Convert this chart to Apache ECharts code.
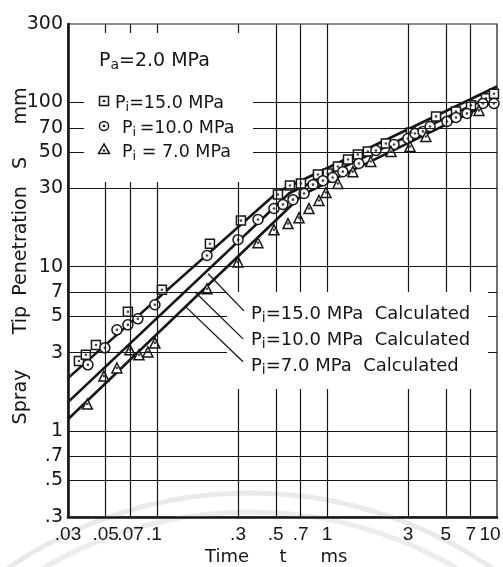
<!DOCTYPE html>
<html><head><meta charset="utf-8">
<script src="https://cdn.jsdelivr.net/npm/echarts@6/dist/echarts.min.js"></script>
<style>html,body{margin:0;padding:0;background:#fff}#c{width:503px;height:567px}</style>
</head><body><div id="c"></div>
<script>
// ---- axis ticks / grid ----
const xTickValues = [0.03,0.05,0.07,0.1,0.3,0.5,0.7,1,3,5,7,10];
const xTickLabels = ['.03','.05','.07','.1','.3','.5','.7','1','3','5','7','10'];
const yTickValues = [0.3,0.5,0.7,1,3,5,7,10,30,50,70,100,300];
const yTickLabels = ['.3','.5','.7','1','3','5','7','10','30','50','70','100','300'];
const xGridValues = [0.05,0.07,0.1,0.3,0.5,0.7,1,3,5,7];
const yGridValues = [0.5,0.7,1,3,5,7,10,30,50,70,100];

// ---- measured: Pi = 15.0 MPa (squares) ----
const time15 = [0.0348,0.0382,0.0438,0.0675,0.107,0.205,0.312,0.515,0.606,0.703,0.885,1.01,1.16,1.33,1.52,1.74,2.22,3.12,4.38,5.74,7.03,8.61,9.6];
const pen15  = [2.67,2.91,3.34,5.32,7.24,13.8,19.1,27.5,31.2,32.1,36.4,36.9,40.7,44.9,48.2,50.3,56.2,65.6,82.2,88,96,106,113];
// ---- measured: Pi = 10.0 MPa (circles) ----
const time10 = [0.0296,0.0393,0.0494,0.0582,0.0675,0.0773,0.0973,0.197,0.30,0.393,0.488,0.551,0.631,0.733,0.828,0.947,1.08,1.24,1.54,1.94,2.48,2.99,3.29,3.67,4.04,5.08,5.74,6.66,8.27,9.6];
const pen10  = [2.2,2.53,3.21,4.13,4.43,4.82,5.87,11.7,14.6,19.4,22.6,23.9,25.6,27.9,31.6,33.4,34.9,37.9,42.5,51,55.5,60.3,64.7,66.6,71.4,76.6,81,85.7,98.6,98.6];
// ---- measured: Pi = 7.0 MPa (triangles) ----
const time7 = [0.0299,0.039,0.0488,0.0582,0.0694,0.0784,0.0885,0.0973,0.197,0.30,0.393,0.488,0.59,0.685,0.784,0.897,0.986,1.16,1.42,1.81,2.38,3.08,3.82,7.83];
const pen7  = [1.25,1.46,2.16,2.42,3.12,2.91,3.03,3.44,7.34,10.7,14.0,16.8,18.3,19.9,22.6,25.3,28.3,32.1,37.9,43.7,50.3,53.9,62,89.4];

// ---- calculated lines (start, break-up, end) ----
const calcTime15 = [0.03,0.515,10];  const calcPen15 = [2.1,28.6,125];
const calcTime10 = [0.03,0.60,10];   const calcPen10 = [1.5,28.0,114];
const calcTime7  = [0.03,0.72,10];   const calcPen7  = [1.18,27.5,104];

// ---- leader lines to the "Calculated" labels ----
const leaderTime1 = [0.200,0.325]; const leaderPen1 = [9.06,5.39];
const leaderTime2 = [0.167,0.321]; const leaderPen2 = [7.04,3.64];
const leaderTime3 = [0.148,0.321]; const leaderPen3 = [5.70,2.64];

const INK = '#161616';
const FONT = "'DejaVu Sans', 'Liberation Sans', sans-serif";
const TICKFONT = "'Liberation Sans', 'DejaVu Sans', sans-serif";
const zip = (a,b) => a.map((v,i)=>[v,b[i]]);
const lookup = (vals, labs, v) => {
  for (let i=0;i<vals.length;i++) if (Math.abs(Math.log10(v)-Math.log10(vals[i]))<1e-6) return labs[i];
  return '';
};

function markerSeries(name, t, s, symbol, size) {
  return [{
    name, type:'scatter', data: zip(t,s), symbol, symbolSize: size, z: 4,
    itemStyle: { color:'#fff', borderColor: INK, borderWidth: 1.5, opacity: 1 },
    emphasis: { disabled: true }, silent: true
  },{
    name: name+'_dot', type:'scatter', data: zip(t,s), symbol:'circle', symbolSize: 2.6, z: 5,
    itemStyle: { color: INK }, emphasis: { disabled: true }, silent: true
  }];
}
function lineSeries(name, t, s, width, z) {
  return { name, type:'line', data: zip(t,s), showSymbol:false, symbol:'none', z,
    lineStyle:{ color: INK, width }, emphasis:{ disabled:true }, silent:true, animation:false };
}

const gridLineSeries = lineSeries('calc15', calcTime15, calcPen15, 2.6, 3);
gridLineSeries.markLine = {
  silent: true, symbol: ['none','none'], animation:false,
  label: { show:false },
  lineStyle: { color: INK, width: 1.2, type:'solid' },
  emphasis: { disabled: true },
  data: xGridValues.map(v=>({xAxis:v})).concat(yGridValues.map(v=>({yAxis:v})))
};

const xRich = {
  n:{fontSize:19, fontFamily:TICKFONT, color:INK},
  r:{fontSize:19, fontFamily:TICKFONT, color:INK, padding:[0,14,0,0]},
  q:{fontSize:19, fontFamily:TICKFONT, color:INK, padding:[0,6,0,0]}
};

const subRich = (fs) => ({ s: { fontSize: fs, fontFamily: FONT, fill: INK, padding:[9,0,0,0] } });

function txt(x, y, text, fs, align, extra) {
  return Object.assign({
    type:'text', x, y, z: 11, silent:true,
    style: { text, x:0, y:0, fill: INK, fontSize: fs, fontFamily: FONT,
      align: align, textAlign: align, verticalAlign:'middle', textVerticalAlign:'middle',
      rich: subRich(Math.round(fs*0.75)) }
  }, extra || {});
}

const chart = echarts.init(document.getElementById('c'), null, {renderer:'canvas'});
chart.setOption({
  animation: false,
  backgroundColor: '#fff',
  grid: { left: 68, right: 6, top: 24, bottom: 50, show: true, borderColor: INK, borderWidth: 1.2,
          containLabel: false, outerBoundsMode: 'none' },
  xAxis: {
    type:'log', logBase:10, min:0.03, max:10,
    axisLine:{ show:true, onZero:false, lineStyle:{ color:INK, width:2.6 } },
    axisTick:{ show:false }, splitLine:{ show:false }, minorTick:{show:false},
    axisLabel:{ customValues: xTickValues, margin: 8, color: INK, fontSize: 19, fontFamily: TICKFONT,
      formatter: v => {
        const s = lookup(xTickValues, xTickLabels, v);
        if (s === '10') return '{r|10}';
        if (s === '.1') return '{q|.1}';
        return '{n|' + s + '}';
      }, rich: xRich }
  },
  yAxis: {
    type:'log', logBase:10, min:0.3, max:300,
    axisLine:{ show:true, onZero:false, lineStyle:{ color:INK, width:2.6 } },
    axisTick:{ show:false }, splitLine:{ show:false }, minorTick:{show:false},
    axisLabel:{ customValues: yTickValues, margin: 5, color: INK, fontSize: 19, fontFamily: FONT,
      formatter: v => lookup(yTickValues, yTickLabels, v) }
  },
  series: [
    gridLineSeries,
    lineSeries('calc10', calcTime10, calcPen10, 2.6, 3),
    lineSeries('calc7', calcTime7, calcPen7, 2.6, 3),
    ...markerSeries('Pi=15.0', time15, pen15, 'rect', 9),
    ...markerSeries('Pi=10.0', time10, pen10, 'circle', 10),
    ...markerSeries('Pi=7.0', time7, pen7, 'triangle', 10),
    lineSeries('leader1', leaderTime1, leaderPen1, 1.3, 12),
    lineSeries('leader2', leaderTime2, leaderPen2, 1.3, 12),
    lineSeries('leader3', leaderTime3, leaderPen3, 1.3, 12)
  ],
  graphic: [
    // faint watermark arcs of the scanned page
    { type:'circle', shape:{cx:250, cy:920, r:427}, style:{fill:'none', stroke:'#e9e9e9', lineWidth:5}, z:0, silent:true },
    { type:'circle', shape:{cx:250, cy:920, r:408}, style:{fill:'none', stroke:'#ececec', lineWidth:5}, z:0, silent:true },
    // white panels behind the legend texts
    { type:'rect', shape:{x:84, y:33, width:169, height:149}, style:{fill:'#fff'}, z:10, silent:true },
    { type:'rect', shape:{x:227, y:292, width:261, height:97}, style:{fill:'#fff'}, z:10, silent:true },
    // legend: measured
    txt(99, 61, 'P{s|a}=2.0 MPa', 19, 'left'),
    { type:'rect', shape:{x:99.5, y:96.5, width:9, height:9}, style:{fill:'#fff', stroke:INK, lineWidth:1.5}, z:11, silent:true },
    { type:'circle', shape:{cx:104, cy:101, r:1.3}, style:{fill:INK}, z:11, silent:true },
    { type:'circle', shape:{cx:104, cy:126, r:4.6}, style:{fill:'#fff', stroke:INK, lineWidth:1.5}, z:11, silent:true },
    { type:'circle', shape:{cx:104, cy:126, r:1.3}, style:{fill:INK}, z:11, silent:true },
    { type:'polygon', shape:{points:[[104,144],[109.5,153.5],[98.5,153.5]]}, style:{fill:'#fff', stroke:INK, lineWidth:1.5}, z:11, silent:true },
    { type:'circle', shape:{cx:104, cy:150.5, r:1.2}, style:{fill:INK}, z:11, silent:true },
    txt(115, 103, 'P{s|i}=15.0 MPa', 17.5, 'left'),
    txt(122, 128, 'P{s|i}\u2009=10.0 MPa', 17.5, 'left'),
    txt(122, 152, 'P{s|i} = 7.0 MPa', 17.5, 'left'),
    // legend: calculated
    txt(251, 314, 'P{s|i}=15.0 MPa  Calculated', 18, 'left'),
    txt(251, 340, 'P{s|i}=10.0 MPa  Calculated', 18, 'left'),
    txt(251, 366, 'P{s|i}=7.0 MPa  Calculated', 18, 'left'),
    // axis titles
    txt(21, 106, 'mm', 19, 'center', {rotation: Math.PI/2}),
    txt(21, 163, 'S', 19, 'center', {rotation: Math.PI/2}),
    txt(21, 241, 'Penetration', 19, 'center', {rotation: Math.PI/2}),
    txt(21, 320, 'Tip', 19, 'center', {rotation: Math.PI/2}),
    txt(21, 397, 'Spray', 19, 'center', {rotation: Math.PI/2}),
    txt(227, 557, 'Time', 18, 'center'),
    txt(283, 557, 't', 18, 'center'),
    txt(334, 557, 'ms', 18, 'center')
  ]
});
</script></body></html>
